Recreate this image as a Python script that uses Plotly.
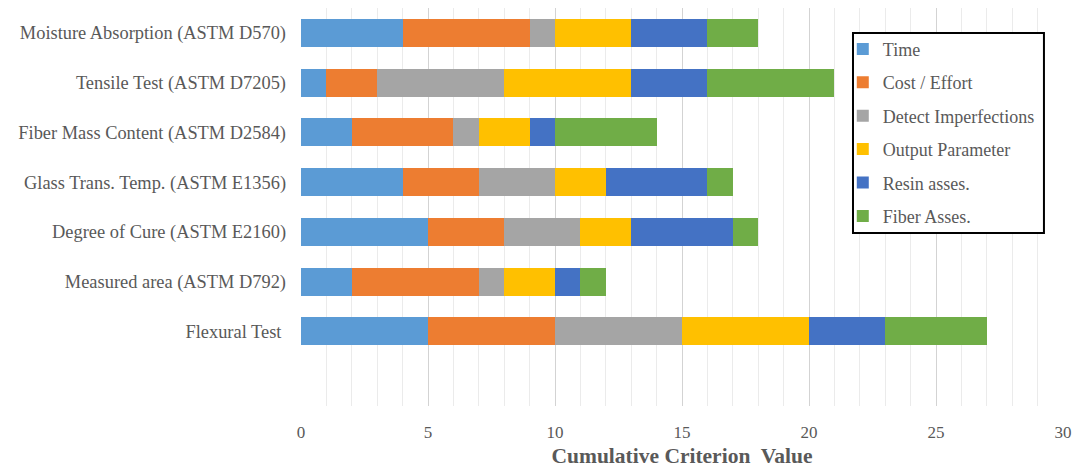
import plotly.graph_objects as go

# Test methods, listed bottom to top as they appear on the y axis
methods = [
    "Flexural Test ",
    "Measured area (ASTM D792)",
    "Degree of Cure (ASTM E2160)",
    "Glass Trans. Temp. (ASTM E1356)",
    "Fiber Mass Content (ASTM D2584)",
    "Tensile Test (ASTM D7205)",
    "Moisture Absorption (ASTM D570)",
]

# Criterion scores per method (same order as methods)
time_vals = [5, 2, 5, 4, 2, 1, 4]
cost_vals = [5, 5, 3, 3, 4, 2, 5]
detect_vals = [5, 1, 3, 3, 1, 5, 1]
output_vals = [5, 2, 2, 2, 2, 5, 3]
resin_vals = [3, 1, 4, 4, 1, 3, 3]
fiber_vals = [4, 1, 1, 1, 4, 5, 2]

series = [
    ("Time", time_vals, "#5B9BD5"),
    ("Cost / Effort", cost_vals, "#ED7D31"),
    ("Detect Imperfections", detect_vals, "#A5A5A5"),
    ("Output Parameter", output_vals, "#FFC000"),
    ("Resin asses.", resin_vals, "#4472C4"),
    ("Fiber Asses.", fiber_vals, "#70AD47"),
]

serif = "Liberation Serif, Times New Roman, serif"
text_gray = "#595959"

fig = go.Figure()
for i, (name, vals, color) in enumerate(series):
    fig.add_trace(go.Bar(
        y=methods, x=vals, name=name, orientation="h",
        marker=dict(color=color, line=dict(width=0)),
        legendgroup=f"g{i}",
    ))

# Framed box behind the legend entries
fig.add_shape(
    type="rect", xref="paper", yref="paper",
    x0=0.7244, x1=0.975, y0=0.4347, y1=0.937,
    line=dict(color="black", width=2), fillcolor="white", layer="above",
)

fig.update_layout(
    barmode="stack",
    bargap=0.44,
    width=1074, height=468,
    margin=dict(l=301, r=11, t=8, b=62, autoexpand=False),
    plot_bgcolor="white", paper_bgcolor="white",
    font=dict(family=serif, color=text_gray),
    legend=dict(
        x=0.711, y=0.943, xanchor="left", yanchor="top",
        bgcolor="rgba(0,0,0,0)", borderwidth=0,
        font=dict(family=serif, size=18, color=text_gray),
        traceorder="grouped", tracegroupgap=7,
        itemwidth=30,
    ),
    xaxis=dict(
        range=[0, 30], dtick=5, showgrid=True, gridcolor="#D3D3D3", gridwidth=1,
        minor=dict(dtick=1, showgrid=True, gridcolor="#EBEBEB", gridwidth=1),
        zeroline=False, showline=False, ticks="", automargin=False,
        ticklabelstandoff=14,
        tickfont=dict(family=serif, size=17, color=text_gray),
        title=dict(text="<b>Cumulative Criterion  Value</b>",
                   font=dict(family=serif, size=21.5, color=text_gray), standoff=10),
    ),
    yaxis=dict(
        type="category", categoryorder="array", categoryarray=methods,
        range=[-1.5, 6.5], showgrid=False, showline=False, ticks="",
        ticklabelstandoff=14, automargin=False,
        tickfont=dict(family=serif, size=18.4, color=text_gray),
    ),
)

fig.write_html("out.html")
